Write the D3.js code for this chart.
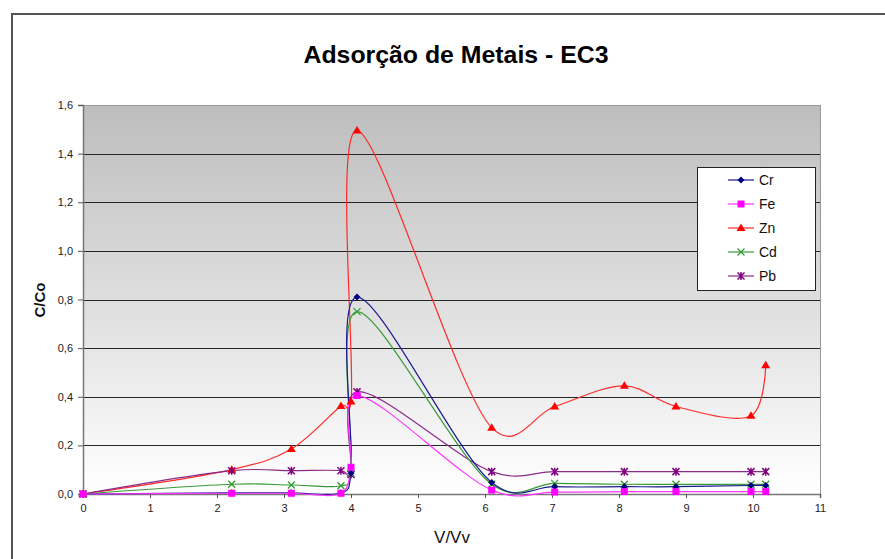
<!DOCTYPE html>
<html><head><meta charset="utf-8">
<script src="https://cdn.jsdelivr.net/npm/d3@7"></script>
<style>html,body{margin:0;padding:0;background:#fff;}svg{display:block;font-family:Arial,"Liberation Sans",sans-serif;}</style>
</head><body>
<svg id="c" width="885" height="559"></svg>
<script>
const vv = [0, 2.22, 3.11, 3.85, 4.0, 4.09, 6.1, 7.04, 8.08, 8.85, 9.97, 10.19];
const cr = [0, 0.005, 0.005, 0.005, 0.085, 0.81, 0.047, 0.03, 0.03, 0.03, 0.035, 0.035];
const fe = [0, 0.003, 0.003, 0.003, 0.11, 0.405, 0.016, 0.008, 0.01, 0.01, 0.01, 0.01];
const zn = [0, 0.10, 0.185, 0.362, 0.38, 1.495, 0.273, 0.36, 0.445, 0.36, 0.322, 0.53];
const cd = [0, 0.04, 0.037, 0.034, 0.085, 0.75, 0.04, 0.044, 0.04, 0.04, 0.04, 0.04];
const pb = [0, 0.096, 0.096, 0.096, 0.08, 0.42, 0.092, 0.092, 0.092, 0.092, 0.092, 0.092];
const seriesNames = ["Cr", "Fe", "Zn", "Cd", "Pb"];
const seriesValues = [cr, fe, zn, cd, pb];
const xTicks = [0,1,2,3,4,5,6,7,8,9,10,11];
const yTicks = [0,0.2,0.4,0.6,0.8,1.0,1.2,1.4,1.6];
const title = "Adsorção de Metais - EC3";
const xLabel = "V/Vv";
const yLabel = "C/Co";

const colors = {Cr:"#000080", Fe:"#ff00ff", Zn:"#ff0000", Cd:"#2e9a2e", Pb:"#800080"};
const lineColors = {Cr:"#1a1a90", Fe:"#ff33ff", Zn:"#ff2a2a", Cd:"#3a9a3a", Pb:"#8a2a8a"};

const svg = d3.select("#c");
const L = 83, R = 820, T = 105, B = 494;
const x = d3.scaleLinear().domain([0, 11]).range([L, R]);
const y = d3.scaleLinear().domain([0, 1.6]).range([B, T]);

// outer chart border
svg.append("rect").attr("x", 12).attr("y", 14).attr("width", 900).attr("height", 600)
  .attr("fill", "#fff").attr("stroke", "#555").attr("stroke-width", 2);

// gradient background
const defs = svg.append("defs");
const g = defs.append("linearGradient").attr("id", "bg").attr("x1", 0).attr("y1", 0).attr("x2", 0).attr("y2", 1);
g.append("stop").attr("offset", "0%").attr("stop-color", "#bdbdbd");
g.append("stop").attr("offset", "100%").attr("stop-color", "#ffffff");
svg.append("rect").attr("x", L).attr("y", T).attr("width", R - L).attr("height", B - T).attr("fill", "url(#bg)");

// grid lines
svg.append("g").selectAll("line").data(yTicks.filter(v => v > 0 && v < 1.6)).join("line")
  .attr("x1", L).attr("x2", R).attr("y1", d => Math.round(y(d)) + 0.5).attr("y2", d => Math.round(y(d)) + 0.5)
  .attr("stroke", "#262626").attr("stroke-width", 1.2);

// plot border top & right
svg.append("line").attr("x1", L).attr("x2", R).attr("y1", T + 0.5).attr("y2", T + 0.5).attr("stroke", "#999");
svg.append("line").attr("x1", R + 0.5).attr("x2", R + 0.5).attr("y1", T).attr("y2", B).attr("stroke", "#999");

// axes
const xAxis = d3.axisBottom(x).tickValues(xTicks).tickSize(4).tickPadding(6).tickFormat(d => d);
const yAxis = d3.axisLeft(y).tickValues(yTicks).tickSize(5).tickPadding(5).tickFormat(d => d3.format(".1f")(d).replace(".", ","));
const gx = svg.append("g").attr("transform", `translate(0,${B})`).call(xAxis);
const gy = svg.append("g").attr("transform", `translate(${L},0)`).call(yAxis);
[gx, gy].forEach(a => {
  a.select(".domain").attr("stroke", "#777").attr("stroke-width", 1.5);
  a.selectAll(".tick line").attr("stroke", "#555");
  a.selectAll("text").attr("font-size", 11).attr("fill", "#222").attr("font-family", "Arial, 'Liberation Sans', sans-serif");
});

// lines
const line = d3.line().x(d => x(d[0])).y(d => y(d[1])).curve(d3.curveCatmullRom.alpha(0.2));
function marker(sel, name) {
  const c = colors[name];
  sel.each(function() {
    const s = d3.select(this);
    if (name === "Cr") {
      s.append("path").attr("d", "M0,-3.5L3.5,0L0,3.5L-3.5,0Z").attr("fill", c);
    } else if (name === "Fe") {
      s.append("rect").attr("x", -3.5).attr("y", -3.5).attr("width", 7).attr("height", 7).attr("fill", c);
    } else if (name === "Zn") {
      s.append("path").attr("d", "M0,-4.5L4.5,3L-4.5,3Z").attr("fill", c);
    } else if (name === "Cd") {
      s.append("path").attr("d", "M-3.5,-3.5L3.5,3.5M-3.5,3.5L3.5,-3.5").attr("stroke", c).attr("stroke-width", 1.2).attr("fill", "none");
    } else if (name === "Pb") {
      s.append("path").attr("d", "M-3.5,-3.5L3.5,3.5M-3.5,3.5L3.5,-3.5M0,-4L0,4").attr("stroke", c).attr("stroke-width", 1.5).attr("fill", "none");
    }
  });
}
const order = ["Zn", "Pb", "Cd", "Cr", "Fe"];
order.forEach(name => {
  const vals = seriesValues[seriesNames.indexOf(name)];
  const pts = vv.map((v, i) => [v, vals[i]]);
  svg.append("path").datum(pts).attr("d", line).attr("fill", "none")
    .attr("stroke", lineColors[name]).attr("stroke-width", 1.2);
});
order.forEach(name => {
  const vals = seriesValues[seriesNames.indexOf(name)];
  const pts = vv.map((v, i) => [v, vals[i]]);
  svg.append("g").selectAll("g").data(pts).join("g")
    .attr("transform", d => `translate(${x(d[0])},${y(d[1])})`).call(marker, name);
});

// title and axis labels
svg.append("text").attr("x", 456).attr("y", 63).attr("text-anchor", "middle")
  .attr("font-size", 24).attr("font-weight", "bold").attr("fill", "#000")
  .attr("textLength", 305).attr("lengthAdjust", "spacingAndGlyphs").text(title);
svg.append("text").attr("x", 452).attr("y", 543).attr("text-anchor", "middle")
  .attr("font-size", 17).attr("fill", "#111").text(xLabel);
svg.append("text").attr("transform", "translate(45,300) rotate(-90)").attr("text-anchor", "middle")
  .attr("font-size", 15).attr("font-weight", "bold").attr("fill", "#111").text(yLabel);

// legend
const lg = svg.append("g").attr("transform", "translate(697,167)");
lg.append("rect").attr("x", 0.5).attr("y", 0.5).attr("width", 118).attr("height", 123)
  .attr("fill", "#fff").attr("stroke", "#222").attr("stroke-width", 1);
seriesNames.forEach((name, i) => {
  const yy = 13 + i * 24;
  lg.append("line").attr("x1", 31).attr("x2", 57).attr("y1", yy).attr("y2", yy)
    .attr("stroke", lineColors[name]).attr("stroke-width", 1.2);
  lg.append("g").attr("transform", `translate(44,${yy})`).call(marker, name);
  lg.append("text").attr("x", 62).attr("y", yy + 5).attr("font-size", 14).attr("fill", "#111").text(name);
});
</script>
</body></html>
